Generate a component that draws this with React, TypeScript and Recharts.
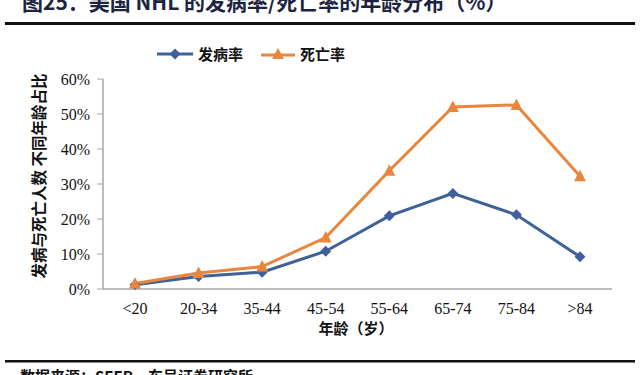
import React from 'react';
import { LineChart, Line, XAxis, YAxis, Legend } from 'recharts';

const categories = ['<20', '20-34', '35-44', '45-54', '55-64', '65-74', '75-84', '>84'];
const incidence = [1.2, 3.6, 4.8, 10.8, 20.9, 27.3, 21.2, 9.2];
const mortality = [1.6, 4.6, 6.4, 14.7, 33.8, 52.0, 52.6, 32.2];
const yTicks = [0, 10, 20, 30, 40, 50, 60];

const seriesNames = { incidence: '发病率', mortality: '死亡率' };
const BLUE = '#3e6199';
const ORANGE = '#e9853c';

const data = categories.map((c, i) => ({ name: c, incidence: incidence[i], mortality: mortality[i] }));

const CJK = '"Noto Sans CJK SC", "Noto Sans", sans-serif';
const SERIF = '"Liberation Serif", "DejaVu Serif", serif';

const Diamond = (props: any) => {
  const { cx, cy } = props;
  if (cx == null || cy == null) return null;
  const r = 5.5;
  return <polygon points={`${cx},${cy - r} ${cx + r},${cy} ${cx},${cy + r} ${cx - r},${cy}`} fill={BLUE} />;
};

const Triangle = (props: any) => {
  const { cx, cy } = props;
  if (cx == null || cy == null) return null;
  return <polygon points={`${cx},${cy - 6.5} ${cx + 6},${cy + 5} ${cx - 6},${cy + 5}`} fill={ORANGE} />;
};

const LegendContent = () => (
  <div style={{ display: 'flex', alignItems: 'center', fontFamily: CJK, fontWeight: 700, fontSize: 15, color: '#111' }}>
    <svg width={36} height={14}>
      <line x1={0} y1={7} x2={36} y2={7} stroke={BLUE} strokeWidth={3} />
      <polygon points="18,1.5 23.5,7 18,12.5 12.5,7" fill={BLUE} />
    </svg>
    <span style={{ marginLeft: 5, marginRight: 18 }}>{seriesNames.incidence}</span>
    <svg width={34} height={14}>
      <line x1={0} y1={8} x2={34} y2={8} stroke={ORANGE} strokeWidth={3} />
      <polygon points="17,1 23,12 11,12" fill={ORANGE} />
    </svg>
    <span style={{ marginLeft: 5 }}>{seriesNames.mortality}</span>
  </div>
);

export default function App() {
  return (
    <div style={{ position: 'absolute', left: 0, top: 0, width: 640, height: 375, overflow: 'hidden', background: '#fff' }}>
      <LineChart width={640} height={375} data={data} margin={{ top: 58, right: 28, bottom: 56, left: 0 }}>
        <XAxis
          dataKey="name"
          padding={{ left: 32, right: 32 }}
          height={30}
          tickLine={false}
          tickMargin={8}
          axisLine={{ stroke: '#a6a6a6', strokeWidth: 1.5 }}
          tick={{ fill: '#111', fontSize: 16, fontFamily: SERIF }}
          interval={0}
        />
        <YAxis
          width={103}
          domain={[0, 60]}
          ticks={yTicks}
          tickFormatter={(v: number) => `${v}%`}
          axisLine={{ stroke: '#a6a6a6', strokeWidth: 1.5 }}
          tickLine={{ stroke: '#a6a6a6' }}
          tickSize={6}
          tickMargin={7}
          tick={{ fill: '#111', fontSize: 16, fontFamily: SERIF }}
        />
        <Legend
          verticalAlign="top"
          content={<LegendContent />}
          wrapperStyle={{ position: 'absolute', top: 43, left: 157, width: 'auto' }}
        />
        <Line
          dataKey="incidence"
          name={seriesNames.incidence}
          stroke={BLUE}
          strokeWidth={3}
          dot={<Diamond />}
          activeDot={false}
          isAnimationActive={false}
        />
        <Line
          dataKey="mortality"
          name={seriesNames.mortality}
          stroke={ORANGE}
          strokeWidth={3}
          dot={<Triangle />}
          activeDot={false}
          isAnimationActive={false}
        />
      </LineChart>
      <svg width={640} height={375} style={{ position: 'absolute', left: 0, top: 0, pointerEvents: 'none' }}>
        <text x={22} y={10} fontFamily={CJK} fontWeight={700} fontSize={21} fill="#1c2340">
          图25：美国 NHL 的发病率/死亡率的年龄分布（%）
        </text>
        <rect x={5} y={22} width={630} height={3} fill="#111" />
        <rect x={5} y={360} width={630} height={2.5} fill="#111" />
        <text x={20} y={382} fontFamily={CJK} fontWeight={700} fontSize={15} fill="#111">
          数据来源：SEER，东吴证券研究所
        </text>
        <text
          x={38}
          y={176}
          transform="rotate(-90, 38, 176)"
          textAnchor="middle"
          dominantBaseline="central"
          fontFamily={CJK}
          fontWeight={700}
          fontSize={15.5}
          fill="#111"
        >
          发病与死亡人数 不同年龄占比
        </text>
        <text x={356} y={327} textAnchor="middle" dominantBaseline="central" fontFamily={CJK} fontWeight={700} fontSize={15} fill="#111">
          年龄（岁）
        </text>
      </svg>
    </div>
  );
}
